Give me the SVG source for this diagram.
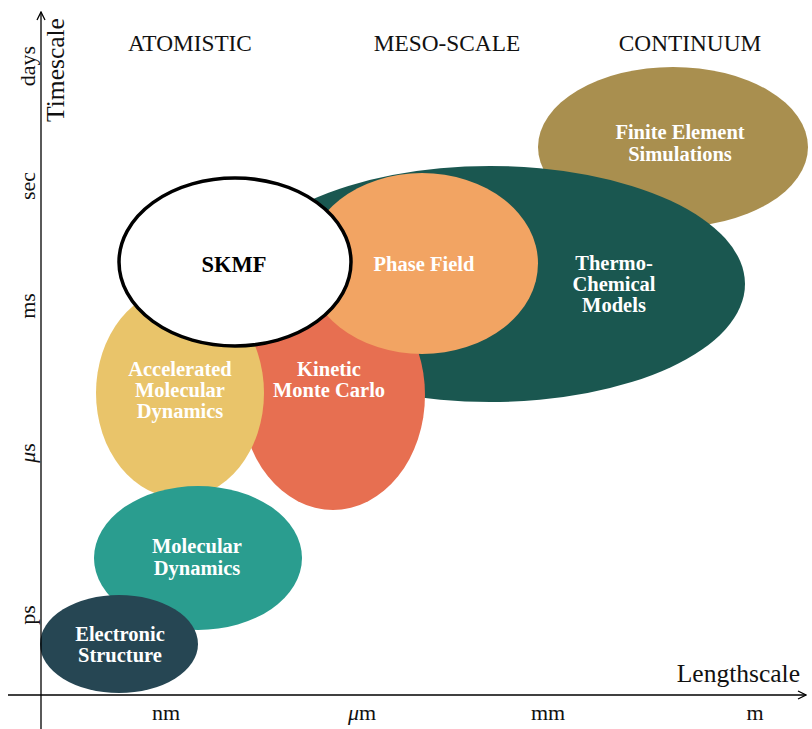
<svg xmlns="http://www.w3.org/2000/svg" width="812" height="729" viewBox="0 0 812 729">
<style>
text{font-family:"Liberation Serif","DejaVu Serif",serif;}
.lbl{font-size:20.5px;font-weight:bold;fill:#fff;text-anchor:middle;}
.scale{font-size:23.3px;fill:#111;text-anchor:middle;}
.tick{font-size:22px;fill:#111;text-anchor:middle;}
.title{font-size:25.5px;fill:#111;}
.axis{stroke:#000;stroke-width:1.3;fill:none;}
</style>
<defs>
<marker id="arr" viewBox="0 0 10 10" refX="9" refY="5" markerWidth="10" markerHeight="10" markerUnits="userSpaceOnUse" orient="auto">
<path d="M1,1 L9,5 L1,9" fill="none" stroke="#000" stroke-width="1.3"/>
</marker>
</defs>
<rect width="812" height="729" fill="#fff"/>
<g id="finite-element"><ellipse cx="673" cy="147" rx="135" ry="80" fill="#a98f4f"/><text class="lbl" x="680" y="139">Finite Element</text><text class="lbl" x="680" y="161">Simulations</text></g>
<g id="thermo-chemical"><ellipse cx="490" cy="284" rx="255" ry="118" fill="#1a5750"/><text class="lbl" x="614" y="270">Thermo-</text><text class="lbl" x="614" y="291">Chemical</text><text class="lbl" x="614" y="312">Models</text></g>
<g id="kinetic-monte-carlo"><ellipse cx="333" cy="395" rx="92" ry="115" fill="#e76f51"/><text class="lbl" x="329" y="376">Kinetic</text><text class="lbl" x="329" y="397">Monte Carlo</text></g>
<g id="phase-field"><ellipse cx="422" cy="263.5" rx="116" ry="90.5" fill="#f2a463"/><text class="lbl" x="424" y="271">Phase Field</text></g>
<g id="accelerated-md"><ellipse cx="180" cy="393" rx="84" ry="105" fill="#e9c46a"/><text class="lbl" x="180" y="376">Accelerated</text><text class="lbl" x="180" y="397">Molecular</text><text class="lbl" x="180" y="418">Dynamics</text></g>
<g id="skmf"><ellipse cx="235" cy="262" rx="116" ry="84" fill="#fff" stroke="#000" stroke-width="3.5"/><text x="234" y="272" font-size="22.5" font-weight="bold" fill="#000" text-anchor="middle">SKMF</text></g>
<g id="molecular-dynamics"><ellipse cx="198" cy="558" rx="104" ry="72" fill="#2a9d8f"/><text class="lbl" x="197" y="553">Molecular</text><text class="lbl" x="197" y="575">Dynamics</text></g>
<g id="electronic-structure"><ellipse cx="119" cy="644" rx="79" ry="49" fill="#264653"/><text class="lbl" x="120" y="641">Electronic</text><text class="lbl" x="120" y="662">Structure</text></g>
<g id="connectors">
<line class="axis" x1="41" y1="729" x2="41" y2="12" marker-end="url(#arr)"/>
<line class="axis" x1="8" y1="695" x2="806" y2="695" marker-end="url(#arr)"/>
</g>
<g id="labels">
<text class="scale" x="190" y="51">ATOMISTIC</text>
<text class="scale" x="447" y="51">MESO-SCALE</text>
<text class="scale" x="690" y="51">CONTINUUM</text>
<text class="title" x="800" y="682" text-anchor="end">Lengthscale</text>
<text class="title" text-anchor="middle" transform="translate(64,70) rotate(-90)">Timescale</text>
<text class="tick" x="166" y="720">nm</text>
<text class="tick" x="362" y="720"><tspan font-style="italic">μ</tspan>m</text>
<text class="tick" x="548" y="720">mm</text>
<text class="tick" x="755" y="720">m</text>
<text class="tick" transform="translate(35,66) rotate(-90)">days</text>
<text class="tick" transform="translate(35,186) rotate(-90)">sec</text>
<text class="tick" transform="translate(35,306) rotate(-90)">ms</text>
<text class="tick" transform="translate(35,453) rotate(-90)"><tspan font-style="italic">μ</tspan>s</text>
<text class="tick" transform="translate(35,615) rotate(-90)">ps</text>
</g>
</svg>
